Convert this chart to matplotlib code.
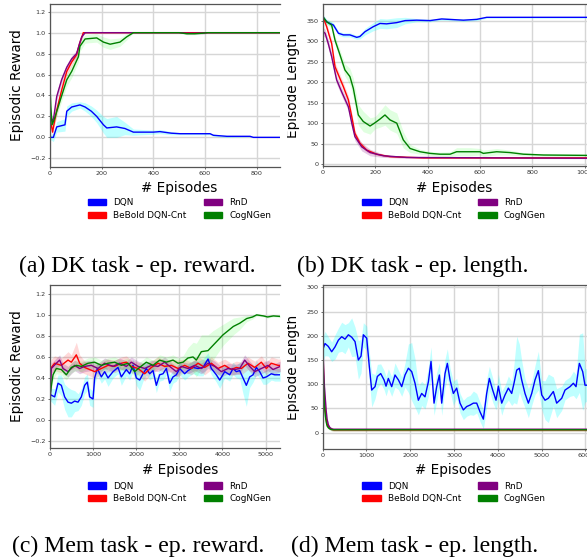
import matplotlib
matplotlib.use("Agg")
import matplotlib.pyplot as plt
from matplotlib.patches import Patch
from matplotlib.transforms import Bbox, TransformedBbox
import numpy as np

W, H = 587, 558

labels = ["DQN", "BeBold DQN-Cnt", "RnD", "CogNGen"]
colors = ["#0000ff", "#ff0000", "#800080", "#008000"]
band_colors = ["cyan", "red", "purple", "lime"]
band_alpha = [0.25, 0.15, 0.2, 0.12]

captions = ["(a) DK task - ep. reward.", "(b) DK task - ep. length.",
            "(c) Mem task - ep. reward.", "(d) Mem task - ep. length."]

# ---- (a) DK task, episodic reward ----
dk_rew_dqn_x = [0, 13, 26, 58, 65, 84, 116, 136, 160, 181, 207, 220, 258, 290, 323, 400, 426, 470, 504, 560, 620, 633, 685, 775, 788, 1000]
dk_rew_dqn_y = [0, 0.0, 0.10, 0.12, 0.25, 0.29, 0.31, 0.29, 0.25, 0.20, 0.12, 0.09, 0.10, 0.085, 0.05, 0.05, 0.055, 0.04, 0.035, 0.035, 0.035, 0.02, 0.01, 0.01, 0.0, 0.0]
dk_rew_dqn_sd = [0.02, 0.04, 0.05, 0.06, 0.05, 0.04, 0.03, 0.04, 0.05, 0.06, 0.08, 0.09, 0.1, 0.06, 0.03, 0.02, 0.02, 0.015, 0.01, 0.01, 0.01, 0.01, 0.01, 0.005, 0.0, 0.0]
dk_rew_bb_x = [0, 5, 10, 15, 26, 45, 65, 84, 103, 115, 129, 140, 1000]
dk_rew_bb_y = [0.15, 0.12, 0.05, 0.12, 0.26, 0.45, 0.63, 0.72, 0.79, 0.9, 1.0, 1.0, 1.0]
dk_rew_bb_sd = [0.03, 0.03, 0.04, 0.04, 0.05, 0.05, 0.04, 0.04, 0.03, 0.03, 0.01, 0.0, 0.0]
dk_rew_rnd_x = [0, 5, 10, 15, 26, 45, 65, 84, 103, 115, 123, 136, 500, 530, 560, 600, 610, 1000]
dk_rew_rnd_y = [0.2, 0.18, 0.15, 0.2, 0.39, 0.55, 0.67, 0.75, 0.8, 0.9, 0.96, 1.0, 1.0, 0.995, 0.995, 0.998, 1.0, 1.0]
dk_rew_rnd_sd = [0.03, 0.03, 0.04, 0.04, 0.04, 0.04, 0.03, 0.03, 0.03, 0.02, 0.02, 0.0, 0.0, 0.01, 0.01, 0.01, 0.0, 0.0]
dk_rew_cog_x = [0, 3, 8, 19, 39, 65, 84, 110, 116, 136, 181, 207, 233, 271, 297, 323, 500, 530, 560, 590, 610, 1000]
dk_rew_cog_y = [0.5, 0.3, 0.12, 0.19, 0.35, 0.55, 0.63, 0.77, 0.87, 0.94, 0.95, 0.91, 0.89, 0.91, 0.96, 1.0, 1.0, 0.99, 0.99, 0.995, 1.0, 1.0]
dk_rew_cog_sd = [0.05, 0.05, 0.05, 0.05, 0.05, 0.06, 0.06, 0.05, 0.05, 0.04, 0.04, 0.05, 0.05, 0.04, 0.03, 0.0, 0.0, 0.01, 0.01, 0.005, 0.0, 0.0]

# ---- (b) DK task, episode length ----
dk_len_dqn_x = [0, 14, 40, 59, 78, 103, 129, 141, 161, 192, 218, 243, 282, 314, 358, 409, 454, 537, 588, 626, 766, 1020]
dk_len_dqn_y = [360, 348, 340, 320, 316, 316, 310, 312, 324, 336, 344, 343, 346, 351, 352, 351, 355, 352, 354, 359, 359, 359]
dk_len_dqn_sd = [5, 6, 6, 5, 5, 5, 5, 6, 8, 10, 12, 12, 12, 8, 4, 3, 3, 3, 3, 2, 2, 2]
dk_len_bb_x = [0, 14, 33, 46, 59, 78, 97, 110, 122, 141, 167, 205, 256, 384, 1020]
dk_len_bb_y = [360, 336, 295, 238, 218, 189, 157, 116, 75, 51, 34, 24, 18, 15, 15]
dk_len_bb_sd = [5, 8, 10, 10, 10, 10, 10, 10, 8, 6, 5, 3, 2, 1, 1]
dk_len_rnd_x = [0, 8, 20, 33, 52, 71, 97, 110, 122, 148, 180, 231, 320, 1020]
dk_len_rnd_y = [324, 320, 295, 263, 206, 177, 140, 100, 67, 42, 28, 20, 16, 14]
dk_len_rnd_sd = [10, 10, 10, 10, 10, 10, 10, 10, 10, 10, 8, 4, 2, 1]
dk_len_cog_x = [0, 14, 33, 46, 65, 84, 103, 116, 135, 154, 180, 199, 218, 237, 256, 282, 307, 333, 371, 409, 447, 486, 511, 562, 600, 613, 664, 715, 766, 843, 1020]
dk_len_cog_y = [360, 348, 340, 303, 267, 230, 214, 185, 120, 104, 93, 101, 110, 120, 108, 100, 59, 38, 30, 26, 24, 24, 30, 30, 30, 26, 30, 28, 24, 22, 21]
dk_len_cog_sd = [5, 5, 8, 10, 12, 15, 20, 25, 25, 25, 20, 15, 20, 25, 25, 25, 20, 10, 6, 5, 5, 6, 10, 10, 8, 8, 8, 6, 4, 3, 3]

# ---- (c) Mem task, episodic reward ----
mem_rew_dqn_x = [0, 15, 108, 186, 263, 340, 418, 495, 572, 650, 727, 804, 866, 920, 998, 1036, 1098, 1191, 1268, 1346,
                 1462, 1578, 1655, 1771, 1848, 1926, 2003, 2080, 2158, 2235, 2312, 2390, 2467, 2544, 2622, 2699, 2776,
                 2854, 2931, 3009, 3124, 3202, 3318, 3434, 3550, 3666, 3743, 3859, 3937, 4053, 4169, 4246, 4323, 4401,
                 4478, 4555, 4633, 4710, 4787, 4865, 4942, 5019, 5135, 5213, 5340]
mem_rew_dqn_y = [0.22, 0.24, 0.22, 0.35, 0.33, 0.22, 0.17, 0.16, 0.18, 0.17, 0.22, 0.33, 0.36, 0.22, 0.20, 0.40, 0.49, 0.41, 0.46, 0.40,
                 0.46, 0.50, 0.41, 0.48, 0.44, 0.52, 0.40, 0.38, 0.44, 0.49, 0.44, 0.47, 0.33, 0.43, 0.44, 0.49, 0.35,
                 0.41, 0.43, 0.49, 0.44, 0.47, 0.50, 0.49, 0.50, 0.58, 0.49, 0.43, 0.38, 0.46, 0.43, 0.49, 0.46, 0.47,
                 0.40, 0.33, 0.41, 0.43, 0.50, 0.46, 0.40, 0.41, 0.44, 0.43, 0.43]
mem_rew_dqn_sd = [0.05, 0.06, 0.08, 0.08, 0.1, 0.12, 0.14, 0.13, 0.1, 0.08, 0.08, 0.08, 0.08, 0.08, 0.08, 0.07, 0.06, 0.06, 0.07, 0.08,
                  0.06, 0.06, 0.08, 0.06, 0.06, 0.06, 0.07, 0.1, 0.07, 0.06, 0.06, 0.06, 0.07, 0.06, 0.06, 0.06, 0.08,
                  0.06, 0.06, 0.06, 0.06, 0.06, 0.06, 0.07, 0.08, 0.06, 0.06, 0.07, 0.08, 0.06, 0.06, 0.06, 0.06, 0.08,
                  0.15, 0.2, 0.1, 0.07, 0.07, 0.06, 0.06, 0.07, 0.06, 0.06, 0.06]
mem_rew_bb_x = [0, 31, 108, 263, 418, 495, 611, 688, 804, 920, 1036, 1191, 1346, 1500, 1655, 1771, 1887, 2042, 2196, 2351,
                2506, 2660, 2815, 2970, 3124, 3279, 3434, 3589, 3743, 3898, 4053, 4207, 4323, 4439, 4594, 4749, 4903,
                5019, 5135, 5290, 5340]
mem_rew_bb_y = [0.45, 0.50, 0.54, 0.52, 0.57, 0.55, 0.62, 0.54, 0.50, 0.48, 0.46, 0.49, 0.52, 0.51, 0.54, 0.55, 0.51, 0.49, 0.44, 0.50,
                0.54, 0.51, 0.52, 0.49, 0.52, 0.49, 0.54, 0.50, 0.54, 0.49, 0.52, 0.48, 0.50, 0.49, 0.54, 0.50, 0.55,
                0.49, 0.54, 0.52, 0.52]
mem_rew_bb_sd = [0.06, 0.08, 0.07, 0.07, 0.08, 0.07, 0.12, 0.08, 0.06, 0.06, 0.06, 0.06, 0.06, 0.06, 0.06, 0.06, 0.06, 0.06, 0.07, 0.06,
                 0.06, 0.06, 0.06, 0.08, 0.06, 0.06, 0.06, 0.07, 0.06, 0.06, 0.06, 0.06, 0.06, 0.06, 0.06, 0.06, 0.06,
                 0.06, 0.06, 0.06, 0.06]
mem_rew_rnd_x = [0, 31, 147, 224, 302, 418, 572, 688, 804, 959, 1114, 1268, 1462, 1616, 1771, 1887, 2042, 2196, 2351, 2506,
                 2660, 2776, 2931, 3047, 3202, 3357, 3511, 3666, 3821, 3975, 4130, 4285, 4401, 4517, 4633, 4749, 4903,
                 5058, 5174, 5340]
mem_rew_rnd_y = [0.08, 0.49, 0.54, 0.57, 0.49, 0.46, 0.52, 0.49, 0.51, 0.52, 0.49, 0.54, 0.51, 0.54, 0.51, 0.55, 0.51, 0.49, 0.52, 0.51,
                 0.55, 0.51, 0.46, 0.51, 0.49, 0.52, 0.49, 0.54, 0.51, 0.46, 0.49, 0.48, 0.49, 0.57, 0.51, 0.46, 0.49,
                 0.52, 0.48, 0.51]
mem_rew_rnd_sd = 0.05
mem_rew_cog_x = [0, 70, 147, 263, 379, 495, 611, 727, 882, 1036, 1191, 1346, 1500, 1655, 1810, 1964, 2080, 2235, 2390, 2544,
                 2699, 2854, 2970, 3086, 3202, 3318, 3395, 3511, 3666, 3782, 3898, 4014, 4254, 4400, 4563, 4700, 4795,
                 4950, 5050, 5182, 5340]
mem_rew_cog_y = [0.24, 0.43, 0.49, 0.48, 0.43, 0.50, 0.52, 0.51, 0.54, 0.55, 0.52, 0.54, 0.55, 0.52, 0.54, 0.46, 0.50, 0.55, 0.52, 0.57,
                 0.55, 0.57, 0.54, 0.55, 0.59, 0.60, 0.57, 0.65, 0.66, 0.71, 0.76, 0.81, 0.89, 0.92, 0.965, 0.98, 1.0,
                 0.99, 0.98, 0.99, 0.985]
mem_rew_cog_sd = [0.05, 0.05, 0.05, 0.05, 0.05, 0.05, 0.05, 0.05, 0.05, 0.05, 0.05, 0.05, 0.05, 0.05, 0.05, 0.05, 0.05, 0.05, 0.05, 0.05,
                  0.05, 0.05, 0.05, 0.06, 0.1, 0.14, 0.16, 0.16, 0.15, 0.14, 0.12, 0.1, 0.08, 0.06, 0.03, 0.02, 0.01,
                  0.01, 0.01, 0.01, 0.01]

# ---- (d) Mem task, episode length ----
mem_len_dqn_x = [0, 53, 128, 205, 281, 358, 434, 510, 586, 662, 738, 814, 875, 928, 1005, 1065, 1119, 1195, 1248, 1324,
                 1400, 1446, 1499, 1575, 1651, 1728, 1804, 1880, 1956, 2032, 2108, 2184, 2260, 2336, 2413, 2473, 2542,
                 2603, 2664, 2717, 2793, 2846, 2907, 2983, 3059, 3135, 3211, 3288, 3364, 3440, 3516, 3592, 3668, 3744,
                 3805, 3881, 3957, 4011, 4087, 4163, 4239, 4315, 4368, 4429, 4490, 4543, 4619, 4696, 4772, 4848, 4924,
                 5000, 5076, 5152, 5266, 5342, 5457, 5533, 5647, 5723, 5784, 5860, 5936, 5989, 6100]
mem_len_dqn_y = [171, 184, 178, 167, 177, 191, 198, 193, 202, 197, 188, 150, 158, 202, 195, 136, 88, 95, 116, 122,
                 109, 96, 112, 95, 119, 109, 95, 119, 133, 126, 102, 67, 81, 74, 105, 147, 61,
                 95, 119, 61, 122, 143, 109, 81, 92, 61, 47, 54, 57, 61, 61, 43, 28, 81,
                 112, 88, 67, 96, 61, 78, 92, 81, 102, 129, 133, 109, 81, 61, 81, 109, 128,
                 78, 67, 71, 85, 61, 71, 88, 95, 102, 95, 143, 126, 98, 98]
mem_len_dqn_sd = [25, 25, 20, 20, 25, 25, 30, 30, 25, 40, 30, 40, 35, 25, 25, 30, 35, 25, 25, 20,
                  20, 20, 20, 20, 25, 20, 20, 25, 50, 60, 50, 30, 25, 25, 30, 30, 25,
                  30, 25, 25, 30, 30, 25, 25, 20, 20, 20, 20, 20, 25, 20, 20, 20, 30,
                  25, 25, 20, 25, 25, 20, 25, 25, 40, 70, 50, 40, 30, 30, 25, 30, 40,
                  30, 40, 50, 30, 30, 25, 20, 20, 25, 25, 60, 80, 35, 30]
mem_len_bb_x = [0, 20, 40, 60, 80, 100, 130, 160, 200, 250, 300, 400, 6100]
mem_len_bb_y = [200, 120, 70, 45, 28, 18, 12, 9, 7, 6, 6, 6, 6]
mem_len_rnd_x = [0, 20, 40, 60, 80, 100, 130, 160, 200, 250, 300, 400, 6100]
mem_len_rnd_y = [205, 135, 95, 70, 45, 28, 16, 11, 8, 7, 7, 7, 7]
mem_len_cog_x = [0, 20, 40, 60, 80, 100, 130, 160, 200, 250, 300, 400, 6100]
mem_len_cog_y = [185, 100, 55, 35, 22, 14, 10, 8, 6.5, 6, 6, 6, 6]
mem_len_small_sd = 3


def px_rect(l, t, r, b):
    return [l / W, 1 - b / H, (r - l) / W, (b - t) / H]


def style_axes(ax, xlim, ylim, xticks, yticks):
    ax.set_xlim(xlim)
    ax.set_ylim(ylim)
    ax.set_xticks(xticks)
    ax.set_yticks(yticks)
    ax.grid(True, color="#d6d6d6", lw=1.0)
    ax.set_axisbelow(True)
    for s in ax.spines.values():
        s.set_color("#555555")
        s.set_linewidth(0.9)
    ax.spines["right"].set_visible(False)
    ax.tick_params(length=1.5, width=0.6, pad=1.6, labelsize=4.6,
                   colors="#555555", labelcolor="#333333")


def draw(ax, xs, ys, sds):
    for i in range(4):
        x = np.array(xs[i], dtype=float)
        y = np.array(ys[i], dtype=float)
        s = np.array(sds[i], dtype=float)
        ax.fill_between(x, y - s, y + s, color=band_colors[i], alpha=band_alpha[i], lw=0)
        ax.plot(x, y, color=colors[i], lw=1.0)


def put_legend(fig, cx, cy):
    handles = [Patch(color=c) for c in colors]
    fig.legend(handles, labels, ncol=2, loc="center", bbox_to_anchor=(cx / W, 1 - cy / H),
               frameon=False, fontsize=6.4, handlelength=2.1, handleheight=0.7,
               handletextpad=0.8, columnspacing=1.9, labelspacing=0.4)


fig = plt.figure(figsize=(W / 100, H / 100), dpi=100)

rew_ticks = [-0.2, 0.0, 0.2, 0.4, 0.6, 0.8, 1.0, 1.2]

# (a)
ax_a = fig.add_axes(px_rect(50, 4, 280, 167))
style_axes(ax_a, (0, 891), (-0.283, 1.274), [0, 200, 400, 600, 800], rew_ticks)
draw(ax_a, [dk_rew_dqn_x, dk_rew_bb_x, dk_rew_rnd_x, dk_rew_cog_x],
     [dk_rew_dqn_y, dk_rew_bb_y, dk_rew_rnd_y, dk_rew_cog_y],
     [dk_rew_dqn_sd, dk_rew_bb_sd, dk_rew_rnd_sd, dk_rew_cog_sd])

# (b)
ax_b = fig.add_axes(px_rect(323, 4, 590, 166))
style_axes(ax_b, (0, 1021), (-4.9, 391.6), [0, 200, 400, 600, 800, 1000], [0, 50, 100, 150, 200, 250, 300, 350])
draw(ax_b, [dk_len_dqn_x, dk_len_bb_x, dk_len_rnd_x, dk_len_cog_x],
     [dk_len_dqn_y, dk_len_bb_y, dk_len_rnd_y, dk_len_cog_y],
     [dk_len_dqn_sd, dk_len_bb_sd, dk_len_rnd_sd, dk_len_cog_sd])

# (c)
ax_c = fig.add_axes(px_rect(50, 285, 280, 448))
style_axes(ax_c, (0, 5336), (-0.266, 1.284), [0, 1000, 2000, 3000, 4000, 5000], rew_ticks)
draw(ax_c, [mem_rew_dqn_x, mem_rew_bb_x, mem_rew_rnd_x, mem_rew_cog_x],
     [mem_rew_dqn_y, mem_rew_bb_y, mem_rew_rnd_y, mem_rew_cog_y],
     [mem_rew_dqn_sd, mem_rew_bb_sd, mem_rew_rnd_sd, mem_rew_cog_sd])

# (d)
ax_d = fig.add_axes(px_rect(322.7, 285, 590, 449))
style_axes(ax_d, (0, 6103), (-33.6, 304.7), [0, 1000, 2000, 3000, 4000, 5000, 6000], [0, 50, 100, 150, 200, 250, 300])
draw(ax_d, [mem_len_dqn_x, mem_len_bb_x, mem_len_rnd_x, mem_len_cog_x],
     [mem_len_dqn_y, mem_len_bb_y, mem_len_rnd_y, mem_len_cog_y],
     [mem_len_dqn_sd, mem_len_small_sd, mem_len_small_sd, mem_len_small_sd])

# axis labels, placed in pixels
clip = TransformedBbox(Bbox.from_extents(286.5 / W, 0, 1, 1), fig.transFigure)
for cx, cy in [(179.5, 188), (454, 188), (180, 470), (453.5, 470)]:
    fig.text(cx / W, 1 - cy / H, "# Episodes", ha="center", va="center", fontsize=9.8)
for cy in [85.5, 366.5]:
    fig.text(17.5 / W, 1 - cy / H, "Episodic Reward", rotation=90, ha="center", va="center", fontsize=9.8)
for cy in [85, 367]:
    t = fig.text(293.5 / W, 1 - cy / H, "Episode Length", rotation=90, ha="center", va="center", fontsize=9.8)
    t.set_clip_box(clip)
    t.set_clip_on(True)

put_legend(fig, 179.5, 209)
put_legend(fig, 454, 209)
put_legend(fig, 179.5, 492.4)
put_legend(fig, 454, 492.4)

for (x, y), cap in zip([(19, 272), (297, 272), (12, 552), (291, 552)], captions):
    fig.text(x / W, 1 - y / H, cap, ha="left", va="baseline", fontsize=17.1, family="Liberation Serif")

fig.savefig("out.png", dpi=100)
